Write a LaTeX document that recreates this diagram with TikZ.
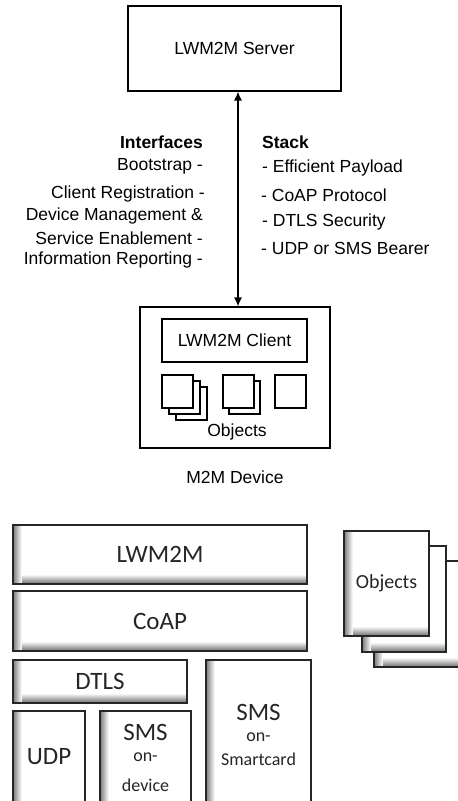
\documentclass[tikz,border=0pt]{standalone}
\usepackage{fontspec}
\setmainfont{Liberation Sans}
\newfontfamily\calfont{Carlito}
\usetikzlibrary{arrows.meta,calc}
\begin{document}
\begin{tikzpicture}[x=1pt,y=-1pt,
  topbox/.style={draw, line width=1.2pt, fill=white, inner sep=0pt},
  sq/.style={topbox, minimum width=31pt, minimum height=33pt},
  atxt/.style={inner sep=0pt, font=\fontsize{17.5}{21}\selectfont},
  shbox/.style={draw=black!85, line width=1.4pt, fill=white, inner sep=0pt,
    path picture={
      \foreach \i in {0,...,8}{
        \pgfmathsetmacro\cc{int(52-6*\i)}
        \fill[black!\cc]
          ([xshift=\i pt]path picture bounding box.south west) rectangle ([xshift=\i pt+1.05pt]path picture bounding box.north west);
        \fill[black!\cc]
          ([xshift=\i pt, yshift=\i pt]path picture bounding box.south west) rectangle ([yshift=\i pt+1.05pt]path picture bounding box.south east);
      }
    }},
  ctxt/.style={inner sep=0pt, text=black!85, align=center, font=\calfont\fontsize{25}{29}\selectfont},
  csmall/.style={inner sep=0pt, text=black!85, font=\calfont\fontsize{18}{22}\selectfont},
]
\clip (0,0) rectangle (458,801);
\fill[white] (0,0) rectangle (458,801);

% top part
\node[topbox, minimum width=213pt, minimum height=85pt, atxt] (server) at (234.5,48.5) {LWM2M Server};
\node[topbox, minimum width=190pt, minimum height=141pt] (device) at (235,377.5) {};
\node[topbox, minimum width=145pt, minimum height=43pt, atxt] (client) at (234.5,340.5) {LWM2M Client};
% object squares
\node[sq] (o1c) at (191.5,403.5) {};
\node[sq] (o1b) at (184.5,397.5) {};
\node[sq] (o1a) at (177.5,391.5) {};
\node[sq] (o2b) at (244.5,397.5) {};
\node[sq] (o2a) at (238.5,391.5) {};
\node[sq] (o3) at (290.5,391.5) {};
\node[atxt] (objlbl) at (237,432) {Objects};
\node[atxt] (devlbl) at (235,477) {M2M Device};

\coordinate (ax) at (238,0);
\draw[line width=1.2pt, {Latex[length=9pt,width=8pt]}-{Latex[length=9pt,width=8pt]}]
  (server.south -| ax) -- (device.north -| ax);

% interfaces
\node[atxt, anchor=east, font=\bfseries\fontsize{17.5}{21}\selectfont] (ifh) at (203,142) {Interfaces};
\node[atxt, anchor=east] (if1) at (203,166) {Bootstrap -};
\node[atxt, anchor=east] (if2) at (205,194) {Client Registration -};
\node[atxt, anchor=east] (if3) at (203,216) {Device Management \&};
\node[atxt, anchor=east] (if4) at (203,238) {Service Enablement -};
\node[atxt, anchor=east] (if5) at (203,260) {Information Reporting -};
% stack
\node[atxt, anchor=west, font=\bfseries\fontsize{17.5}{21}\selectfont] (sth) at (262,142) {Stack};
\node[atxt, anchor=west] (st1) at (262,168) {- Efficient Payload};
\node[atxt, anchor=west] (st2) at (261,195) {- CoAP Protocol};
\node[atxt, anchor=west] (st3) at (262,222) {- DTLS Security};
\node[atxt, anchor=west] (st4) at (261,248) {- UDP or SMS Bearer};

% bottom stack
\node[shbox, minimum width=294pt, minimum height=59pt] (lw) at (160,554.5) {};
\node[ctxt] at (lw.center) {LWM2M};
\node[shbox, minimum width=294pt, minimum height=60pt] (coap) at (160,621) {};
\node[ctxt] at (coap.center) {CoAP};
\node[shbox, minimum width=174pt, minimum height=43pt] (dtls) at (100,681.5) {};
\node[ctxt] at (dtls.center) {DTLS};
\node[shbox, minimum width=105pt, minimum height=160pt] (smc) at (258.5,740) {};
\node[ctxt, anchor=center] (smcs) at (258.5,712) {SMS};
\node[csmall] (smco) at (258.5,737) {on-};
\node[csmall] (smct) at (258.5,759) {Smartcard};
\node[shbox, minimum width=72pt, minimum height=110pt] (udp) at (49,766) {};
\node[ctxt] (udpt) at (49,757) {UDP};
\node[shbox, minimum width=91pt, minimum height=110pt] (smd) at (145.5,766) {};
\node[ctxt] (smds) at (145.5,732) {SMS};
\node[csmall] (smdo) at (145.5,757) {on-};
\node[csmall] (smdd) at (145.5,785) {device};

% objects stack
\node[shbox, minimum width=85pt, minimum height=106pt] (ob3) at (416.5,614) {};
\node[shbox, minimum width=84pt, minimum height=106pt] (ob2) at (404,599) {};
\node[shbox, minimum width=85pt, minimum height=105pt] (ob1) at (386.5,583.5) {};
\node[csmall, font=\calfont\fontsize{20}{24}\selectfont] at (ob1.center) {Objects};
\end{tikzpicture}
\end{document}
